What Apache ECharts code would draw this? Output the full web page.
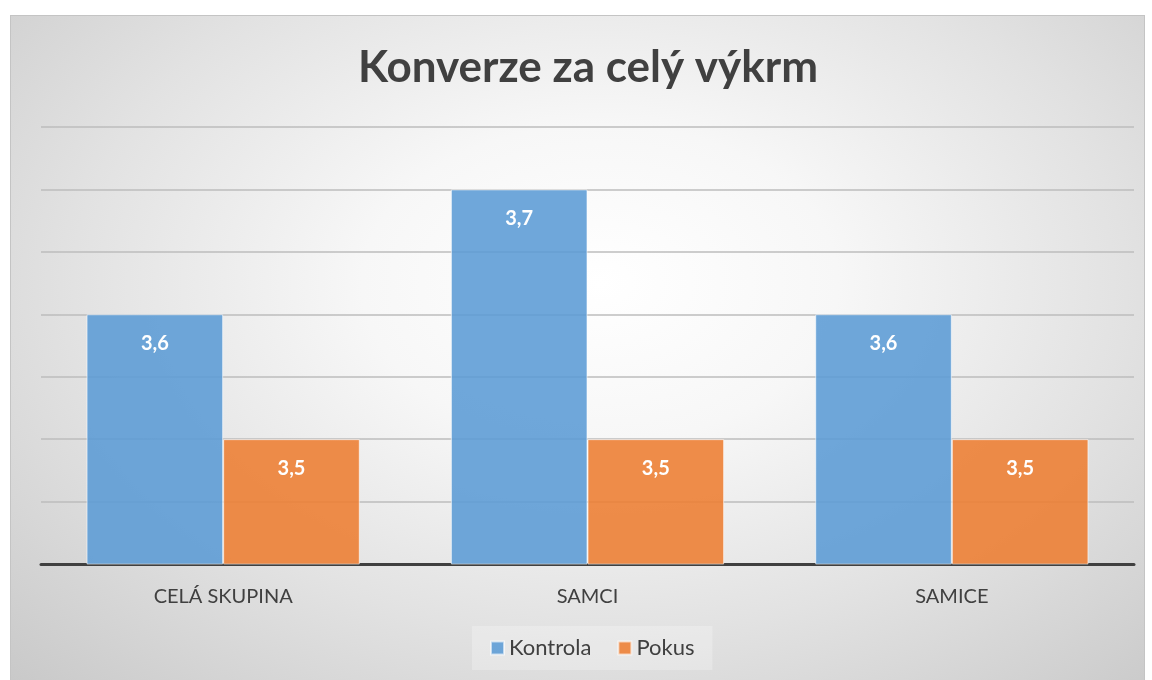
<!DOCTYPE html>
<html>
<head>
<meta charset="utf-8">
<script src="https://cdn.jsdelivr.net/npm/echarts@6/dist/echarts.min.js"></script>
<style>
html,body{margin:0;padding:0;background:#fff;width:1152px;height:680px;overflow:hidden;}
#bg{position:absolute;left:10px;top:15px;width:1135px;height:670px;border:1px solid #c4c4c4;box-sizing:border-box;
background:radial-gradient(ellipse 75% 85% at 52% 40%, #ffffff 0%, #f7f7f7 28%, #e2e2e2 62%, #c8c8c8 100%);}
#chart{position:absolute;left:0;top:0;width:1152px;height:680px;}
</style>
</head>
<body>
<div id="bg"></div>
<div id="chart"></div>
<script>
const title = 'Konverze za celý výkrm';
const categories = ['CELÁ SKUPINA', 'SAMCI', 'SAMICE'];
const seriesNames = ['Kontrola', 'Pokus'];
const kontrola = [3.6, 3.7, 3.6];
const pokus = [3.5, 3.5, 3.5];

const FONT = 'Lato, "Open Sans", sans-serif';
const chart = echarts.init(document.getElementById('chart'), null, {renderer: 'canvas'});
const lbl = {
  show: true, position: 'insideTop', distance: 19,
  color: '#ffffff', fontWeight: 'bold', fontSize: 20, fontFamily: FONT,
  formatter: p => String(p.value).replace('.', ',')
};
chart.setOption({
  backgroundColor: 'transparent',
  animation: false,
  title: {
    text: title, left: 583, top: 41, textAlign: 'center',
    textStyle: {fontSize: 44, fontWeight: 'bold', color: '#404040', fontFamily: FONT}
  },
  legend: {
    data: seriesNames, top: 626, left: 472, itemWidth: 13, itemHeight: 13, itemGap: 26,
    icon: 'rect', backgroundColor: 'rgba(255,255,255,0.25)', padding: [11, 18],
    textStyle: {fontSize: 22, color: '#404040', fontFamily: FONT}
  },
  grid: {left: 41, right: 18, top: 127, bottom: 116},
  xAxis: {
    type: 'category', data: categories,
    axisLine: {lineStyle: {color: '#404040', width: 3}},
    axisTick: {show: false},
    axisLabel: {fontSize: 20, color: '#404040', margin: 23, fontFamily: FONT}
  },
  yAxis: {
    type: 'value', min: 3.4, max: 3.75, interval: 0.05,
    axisLabel: {show: false}, axisLine: {show: false}, axisTick: {show: false},
    splitLine: {lineStyle: {color: '#bdbdbd', width: 1.5}}
  },
  series: [
    {name: seriesNames[0], type: 'bar', data: kontrola, barGap: '0%', barCategoryGap: '25%',
     itemStyle: {color: 'rgba(91,155,213,0.88)', borderColor: 'rgba(255,255,255,0.6)', borderWidth: 1}, label: lbl},
    {name: seriesNames[1], type: 'bar', data: pokus,
     itemStyle: {color: 'rgba(237,125,49,0.88)', borderColor: 'rgba(255,255,255,0.6)', borderWidth: 1}, label: lbl}
  ]
});
</script>
</body>
</html>
